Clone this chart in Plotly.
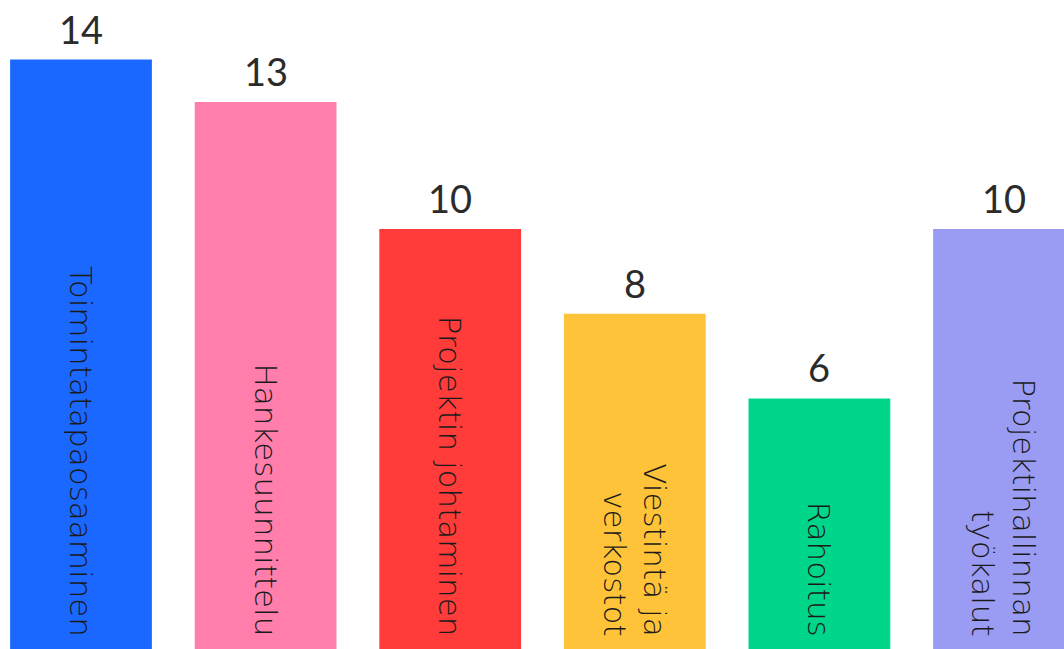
import plotly.graph_objects as go

categories = ["Toimintatapaosaaminen", "Hankesuunnittelu", "Projektin johtaminen",
              "Viestintä ja<br>verkostot", "Rahoitus", "Projektihallinnan<br>työkalut"]
values = [14, 13, 10, 8, 6, 10]
colors = ["#1A68FF", "#FF7EAB", "#FF3C3A", "#FFC33A", "#00D68A", "#9A9CF4"]

x_idx = list(range(len(categories)))

fig = go.Figure()
fig.add_trace(go.Bar(
    x=x_idx, y=values, width=0.768,
    marker=dict(color=colors, line=dict(width=0)),
    hoverinfo="skip",
))

for i, (c, v) in enumerate(zip(categories, values)):
    fig.add_annotation(x=i, y=v, text=str(v), showarrow=False,
                       xanchor="center", yanchor="bottom", yshift=6,
                       font=dict(family="Lato", size=38, color="#2b2b2b"))
    fig.add_annotation(x=i, y=0.33, text=c, showarrow=False, textangle=90,
                       xanchor="center", yanchor="bottom", align="right",
                       font=dict(family="DejaVu Sans", size=31, color="#1a1a1a",
                                 weight=300))

fig.update_layout(
    width=1064, height=649,
    margin=dict(l=0, r=0, t=0, b=0),
    paper_bgcolor="white", plot_bgcolor="white",
    showlegend=False,
    xaxis=dict(range=[-0.4388, 5.325], visible=False),
    yaxis=dict(range=[0.083, 15.407], visible=False),
)

fig.write_html("out.html", config={"displayModeBar": False},
               post_script="document.body.style.margin='0';")
